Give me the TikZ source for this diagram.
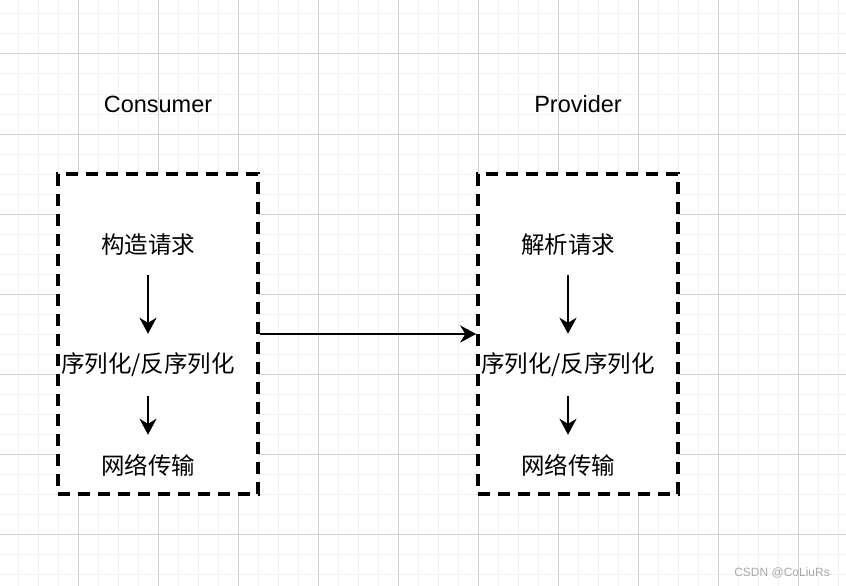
\documentclass[tikz,border=0pt]{standalone}
\usepackage{fontspec}
\setmainfont{Liberation Sans}
\newfontfamily\cjk{Noto Sans CJK SC}
\usetikzlibrary{arrows.meta}
\definecolor{gridminor}{HTML}{F1F1F1}
\definecolor{gridmajor}{HTML}{D2D2D2}
\definecolor{wm}{HTML}{A8A8A8}
\tikzset{
  dashbox/.style={draw=black, fill=white, line width=3.5pt, dash pattern=on 12pt off 8pt,
    minimum width=200pt, minimum height=320pt, inner sep=0pt},
  title/.style={font=\fontsize{23.5}{26}\selectfont, inner sep=0pt},
  steptext/.style={font=\cjk\fontsize{23.5}{26}\selectfont, inner sep=0pt},
  flow/.style={draw=black, line width=2.2pt, -{Stealth[length=16pt,width=17pt,inset=5pt]}}
}
\begin{document}
\begin{tikzpicture}[x=1pt,y=-1pt]
\useasboundingbox (0,0) rectangle (846,586);
\fill[white] (0,0) rectangle (846,586);
% grid
\foreach \x in {18,38,...,838} \draw[gridminor, line width=1pt] (\x,0) -- (\x,586);
\foreach \y in {14,34,...,574} \draw[gridminor, line width=1pt] (0,\y) -- (846,\y);
\foreach \x in {78,158,...,798} \draw[gridmajor, line width=1pt] (\x,0) -- (\x,586);
\foreach \y in {54,134,...,534} \draw[gridmajor, line width=1pt] (0,\y) -- (846,\y);
% titles
\node[title] (tc) at (158,104) {Consumer};
\node[title] (tp) at (578,104) {Provider};
% boxes
\node[dashbox] (b1) at (158,334) {};
\node[dashbox] (b2) at (578,334) {};
% consumer steps
\node[steptext, minimum height=60pt] (c1) at (148,245) {构造请求};
\node[steptext, minimum height=62pt] (c2) at (148,365) {序列化/反序列化};
\node[steptext, minimum height=60pt] (c3) at (148,465) {网络传输};
% provider steps
\node[steptext, minimum height=60pt] (p1) at (568,245) {解析请求};
\node[steptext, minimum height=62pt] (p2) at (568,365) {序列化/反序列化};
\node[steptext, minimum height=60pt] (p3) at (568,465) {网络传输};
% arrows
\draw[flow] (c1.south) -- (c2.north);
\draw[flow] (c2.south) -- (c3.north);
\draw[flow] (p1.south) -- (p2.north);
\draw[flow] (p2.south) -- (p3.north);
\draw[flow] (b1.east) -- (b2.west);
% watermark
\node[font=\fontsize{12}{14}\selectfont, text=wm, inner sep=0pt, anchor=east] (wmk) at (830,573) {CSDN @CoLiuRs};
\end{tikzpicture}
\end{document}
